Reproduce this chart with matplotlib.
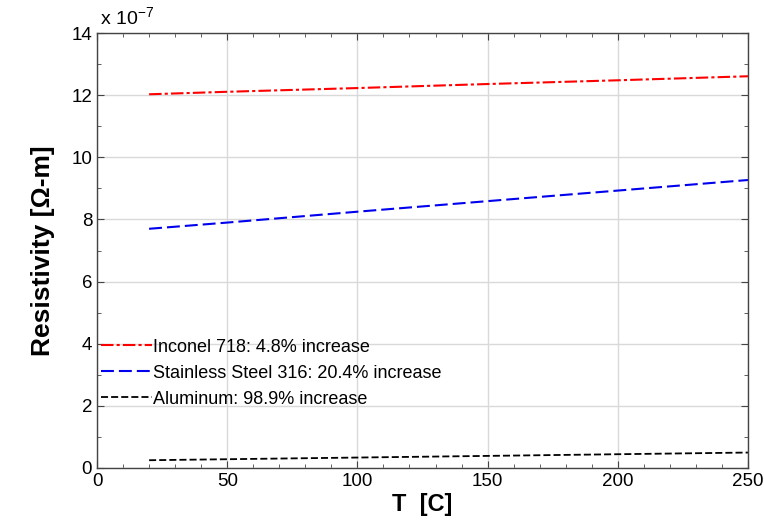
import matplotlib
matplotlib.use("Agg")
import matplotlib.pyplot as plt
from matplotlib.ticker import MultipleLocator

plt.rcParams['font.family'] = ['Liberation Sans', 'DejaVu Sans']
plt.rcParams['mathtext.default'] = 'regular'

T = [20, 50, 100, 150, 200, 250]
inconel = [12.03, 12.11, 12.23, 12.36, 12.48, 12.61]
stainless = [7.70, 7.90, 8.25, 8.59, 8.93, 9.27]
aluminum = [0.25, 0.282, 0.336, 0.389, 0.443, 0.497]
labels = ["Inconel 718: 4.8% increase",
          "Stainless Steel 316: 20.4% increase",
          "Aluminum: 98.9% increase"]

fig = plt.figure(figsize=(7.64, 5.25), dpi=100)
ax = fig.add_axes([0.127, 0.1086, 0.852, 0.8284])

ax.plot(T, inconel, color='red', lw=1.5, linestyle=(0, (6, 1.5, 1.5, 1.5)), label=labels[0])
ax.plot(T, stainless, color='#0000ee', lw=1.5, linestyle=(0, (6.2, 2.4)), label=labels[1])
ax.plot(T, aluminum, color='black', lw=1.3, linestyle=(0, (3.9, 1.7)), label=labels[2])

ax.set_xlim(0, 250)
ax.set_ylim(0, 14)
ax.xaxis.set_major_locator(MultipleLocator(50))
ax.xaxis.set_minor_locator(MultipleLocator(10))
ax.yaxis.set_major_locator(MultipleLocator(2))
ax.yaxis.set_minor_locator(MultipleLocator(1))
ax.tick_params(which='both', direction='in', top=True, right=True, colors='#444444', labelcolor='black')
ax.tick_params(which='major', length=5, labelsize=13.5)
ax.tick_params(which='minor', length=3)
ax.grid(True, which='major', color='#d9d9d9', lw=1)
for s in ax.spines.values():
    s.set_color('#444444')
    s.set_linewidth(1)

ax.set_xlabel("T  [C]", fontsize=17, fontweight='bold', labelpad=2)
ax.set_ylabel("Resistivity [Ω-m]", fontsize=19, fontweight='bold', labelpad=12)
ax.text(0.005, 1.012, r"x 10$^{-7}$", transform=ax.transAxes, fontsize=14, ha='left', va='bottom')

leg = ax.legend(loc='lower left', bbox_to_anchor=(-0.005, 0.122), frameon=False, fontsize=13,
                handlelength=2.8, handletextpad=0.1, labelspacing=0.5, borderaxespad=0)

fig.savefig("out.png", dpi=100)
